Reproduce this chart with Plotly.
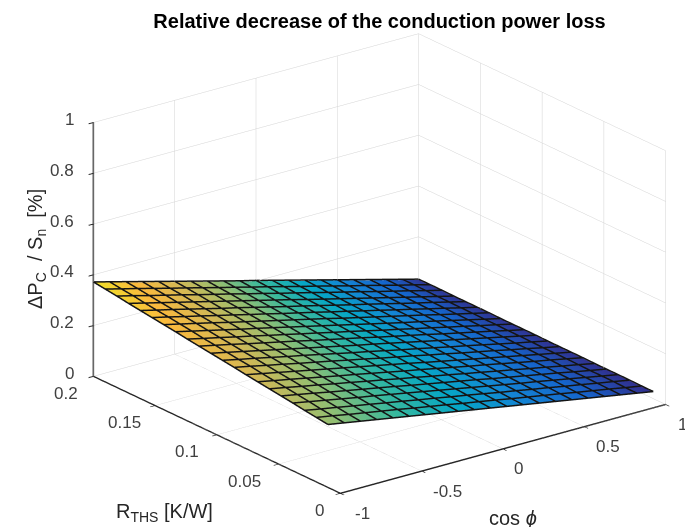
import plotly.graph_objects as go

cos_phi = [-1, -0.9, -0.8, -0.7, -0.6, -0.5, -0.4, -0.3, -0.2, -0.1, 0,
           0.1, 0.2, 0.3, 0.4, 0.5, 0.6, 0.7, 0.8, 0.9, 1]
r_ths = [0.01, 0.0195, 0.029, 0.0385, 0.048, 0.0575, 0.067, 0.0765, 0.086, 0.0955, 0.105,
         0.1145, 0.124, 0.1335, 0.143, 0.1525, 0.162, 0.1715, 0.181, 0.1905, 0.2]
dp = [
    [.245, .234, .223, .212, .201, .190, .179, .168, .157, .146, .135, .124, .113, .102, .091, .080, .069, .058, .047, .036, .025],
    [.251, .240, .228, .217, .206, .195, .183, .172, .161, .149, .138, .127, .115, .104, .093, .082, .070, .059, .048, .036, .025],
    [.257, .245, .234, .222, .211, .199, .188, .176, .165, .153, .142, .130, .118, .107, .095, .084, .072, .061, .049, .038, .026],
    [.264, .252, .240, .228, .216, .205, .193, .181, .169, .157, .145, .133, .121, .109, .097, .086, .074, .062, .050, .038, .026],
    [.270, .258, .246, .233, .221, .209, .197, .185, .172, .160, .148, .136, .124, .111, .099, .087, .075, .063, .050, .038, .026],
    [.276, .264, .251, .239, .226, .214, .201, .189, .176, .164, .151, .139, .126, .114, .101, .089, .076, .064, .051, .039, .026],
    [.282, .269, .257, .244, .231, .218, .206, .193, .180, .167, .155, .142, .129, .116, .104, .091, .078, .065, .053, .040, .027],
    [.288, .275, .262, .249, .236, .223, .210, .197, .184, .171, .158, .144, .131, .118, .105, .092, .079, .066, .053, .040, .027],
    [.295, .282, .268, .255, .241, .228, .215, .201, .188, .174, .161, .148, .134, .121, .107, .094, .081, .067, .054, .040, .027],
    [.301, .287, .274, .260, .246, .233, .219, .205, .191, .178, .164, .150, .137, .123, .109, .096, .082, .068, .054, .041, .027],
    [.307, .293, .279, .265, .251, .237, .223, .209, .195, .181, .168, .154, .140, .126, .112, .098, .084, .070, .056, .042, .028],
    [.313, .299, .285, .270, .256, .242, .228, .213, .199, .185, .171, .156, .142, .128, .114, .099, .085, .071, .057, .042, .028],
    [.319, .304, .290, .275, .261, .246, .232, .217, .203, .188, .174, .159, .144, .130, .115, .101, .086, .072, .057, .043, .028],
    [.326, .311, .296, .281, .266, .252, .237, .222, .207, .192, .177, .162, .147, .132, .117, .103, .088, .073, .058, .043, .028],
    [.332, .317, .302, .287, .271, .256, .241, .226, .211, .196, .181, .165, .150, .135, .120, .105, .090, .074, .059, .044, .029],
    [.338, .323, .307, .292, .276, .261, .245, .230, .214, .199, .184, .168, .153, .137, .122, .106, .091, .075, .060, .044, .029],
    [.344, .328, .313, .297, .281, .265, .250, .234, .218, .202, .187, .171, .155, .139, .124, .108, .092, .076, .061, .045, .029],
    [.350, .334, .318, .302, .286, .270, .254, .238, .222, .206, .190, .173, .157, .141, .125, .109, .093, .077, .061, .045, .029],
    [.357, .341, .324, .308, .292, .275, .259, .243, .226, .210, .193, .177, .161, .144, .128, .112, .095, .079, .063, .046, .030],
    [.363, .346, .330, .313, .296, .280, .263, .246, .230, .213, .197, .180, .163, .147, .130, .113, .097, .080, .063, .047, .030],
    [.369, .352, .335, .318, .301, .284, .267, .250, .233, .216, .200, .183, .166, .149, .132, .115, .098, .081, .064, .047, .030],
]
x_ticks = [-1, -0.5, 0, 0.5, 1]
y_ticks = [0, 0.05, 0.1, 0.15, 0.2]
z_ticks = [0, 0.2, 0.4, 0.6, 0.8, 1]

parula = [[0, "#31308F"], [0.125, "#1565CC"], [0.25, "#1485D4"], [0.375, "#06A7C6"],
          [0.5, "#38B99E"], [0.625, "#92BF73"], [0.75, "#D4B855"], [0.875, "#FAB93E"], [1, "#EFE02A"]]

font = "Liberation Sans"
tick_font = dict(family=font, size=17, color="#404040")
title_font = dict(family=font, size=20, color="#262626")
line_lift = 0.003


def axis(ticks, rng):
    return dict(
        title=dict(text=""),
        tickvals=ticks, range=rng, autorange=False, showticklabels=False,
        showgrid=True, gridcolor="#d4d4d4", gridwidth=1,
        showline=True, linecolor="#262626", linewidth=3,
        ticks="outside", ticklen=6, tickcolor="#262626", tickwidth=2,
        showbackground=False, zeroline=False, showspikes=False,
    )


def label(x, y, z, text, dx, dy, anchor="center"):
    return dict(x=x, y=y, z=z, text=str(text), showarrow=False, xshift=dx, yshift=dy,
                font=tick_font, xanchor=anchor, yanchor="middle")


notes = []
for t, dx in zip(x_ticks, [22, 26, 16, 24, 17]):
    notes.append(label(t, 0, 0, t, dx, -20))
for t, dx in zip(y_ticks, [-21, -34, -30, -31, -27]):
    notes.append(label(-1, t, 0, t, dx, -17))
for t in z_ticks:
    notes.append(label(-1, 0.2, t, t, -17, 3, "right"))

# Mesh lines of the surface, taken directly from the same table
mx, my, mz = [], [], []
for j, row in enumerate(dp):
    for i, v in enumerate(row):
        mx.append(cos_phi[i]); my.append(r_ths[j]); mz.append(v + line_lift)
    mx.append(None); my.append(None); mz.append(None)
for i in range(len(cos_phi)):
    for j in range(len(r_ths)):
        mx.append(cos_phi[i]); my.append(r_ths[j]); mz.append(dp[j][i] + line_lift)
    mx.append(None); my.append(None); mz.append(None)

fig = go.Figure()
fig.add_trace(go.Surface(
    x=cos_phi, y=r_ths, z=dp,
    colorscale=parula, showscale=False,
    lighting=dict(ambient=1, diffuse=0, specular=0, fresnel=0, roughness=1),
    hoverinfo="skip",
))
fig.add_trace(go.Scatter3d(
    x=mx, y=my, z=mz, mode="lines",
    line=dict(color="#141414", width=3),
    showlegend=False, hoverinfo="skip",
))

k = 1.8
m = 1.55
fig.update_layout(
    width=685, height=527, autosize=False,
    margin=dict(l=0, r=0, t=0, b=0),
    paper_bgcolor="white",
    showlegend=False,
    title=dict(text="<b>Relative decrease of the conduction power loss</b>",
               font=dict(family=font, size=20, color="black"),
               x=0.554, xanchor="center", y=0.96, yanchor="middle"),
    annotations=[
        dict(text="R<sub>THS</sub> [K/W]", x=164 / 685, y=1 - 512 / 527, xref="paper", yref="paper",
             xanchor="center", yanchor="middle", showarrow=False, font=title_font),
        dict(text="cos <i>ϕ</i>", x=513 / 685, y=1 - 518 / 527, xref="paper", yref="paper",
             xanchor="center", yanchor="middle", showarrow=False, font=title_font),
        dict(text="ΔP<sub>C</sub>\u00a0\u00a0/\u00a0S<sub>n</sub>\u00a0\u00a0[%]", x=37 / 685, y=1 - 249 / 527,
             xref="paper", yref="paper", xanchor="center", yanchor="middle", showarrow=False,
             font=title_font, textangle=-90),
    ],
    scene=dict(
        domain=dict(x=[0.108, 1], y=[0, 1]),
        xaxis=axis(x_ticks, [-1, 1]),
        yaxis=axis(y_ticks, [0, 0.2]),
        zaxis=axis(z_ticks, [0, 1]),
        aspectmode="manual",
        aspectratio=dict(x=m, y=m, z=0.666 * m),
        annotations=notes,
        camera=dict(
            projection=dict(type="orthographic"),
            eye=dict(x=-0.565 * k, y=-0.744 * k, z=0.36 * k),
            up=dict(x=0, y=0, z=1),
            center=dict(x=0, y=0, z=0),
        ),
    ),
)

fig.write_html("out.html", config=dict(displayModeBar=False),
               post_script="document.body.style.margin = '0';")
